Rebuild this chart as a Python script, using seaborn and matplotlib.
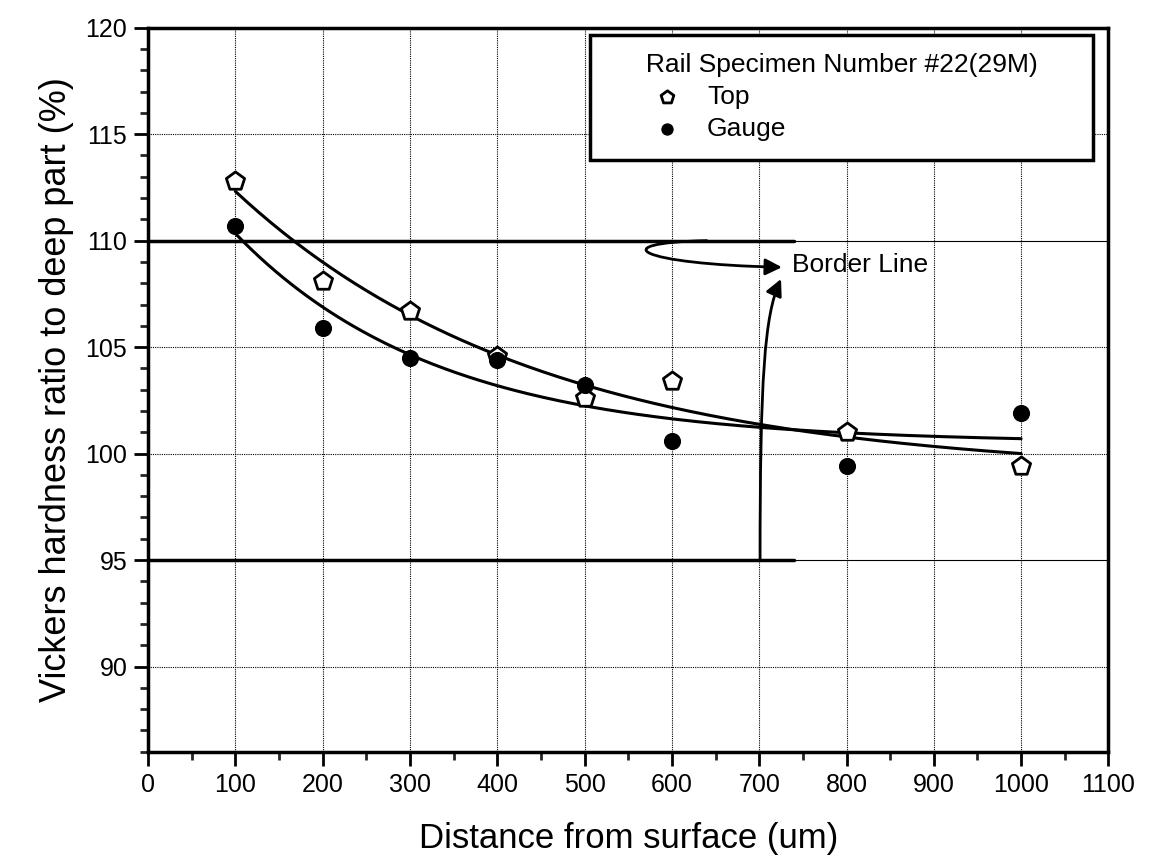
import numpy as np
import pandas as pd
import matplotlib.pyplot as plt
import seaborn as sns
from matplotlib.path import Path
from matplotlib.patches import FancyArrowPatch
from matplotlib.ticker import MultipleLocator

# Datos
distancia = [100, 200, 300, 400, 500, 600, 800, 1000]
top = [112.8, 108.1, 106.7, 104.6, 102.6, 103.4, 101.0, 99.4]
gauge = [110.7, 105.9, 104.5, 104.4, 103.2, 100.6, 99.4, 101.9]
borde_sup = 110
borde_inf = 95
titulo_leyenda = "Rail Specimen Number #22(29M)"


# Ajuste exponencial y = y0 + A*exp(-x/t) (búsqueda en t, mínimos cuadrados en y0 y A)
def ajuste_exp(x, y):
    x = np.asarray(x, float)
    y = np.asarray(y, float)
    mejor = None
    for t in np.linspace(50, 2000, 2000):
        M = np.column_stack([np.ones_like(x), np.exp(-x / t)])
        coef, res, *_ = np.linalg.lstsq(M, y, rcond=None)
        err = np.sum((M @ coef - y) ** 2)
        if mejor is None or err < mejor[0]:
            mejor = (err, t, coef)
    _, t, (y0, a) = mejor
    xs = np.linspace(x.min(), x.max(), 200)
    return xs, y0 + a * np.exp(-xs / t)


sns.set_style("white")
plt.rcParams['font.family'] = ['Liberation Sans', 'DejaVu Sans']
plt.rcParams['text.color'] = 'black'
plt.rcParams['axes.labelcolor'] = 'black'

fig = plt.figure(figsize=(11.57, 8.66), dpi=100)
ax = fig.add_axes([0.128, 0.132, 0.830, 0.836])

df = pd.DataFrame({"x": distancia, "Top": top, "Gauge": gauge})

# Cuadrícula
for xv in range(100, 1100, 100):
    ax.axvline(xv, color="black", lw=0.8, ls=(0, (1, 1)), zorder=1)
for yv in [90, 100, 105, 115]:
    ax.axhline(yv, color="black", lw=0.8, ls=(0, (1, 1)), zorder=1)
for yv in [borde_sup, borde_inf]:
    ax.axhline(yv, color="black", lw=0.8, zorder=1)
    ax.plot([0, 740], [yv, yv], color="black", lw=2.5, zorder=2)

# Curvas de ajuste
for col in ["Top", "Gauge"]:
    xs, ys = ajuste_exp(df["x"], df[col])
    sns.lineplot(x=xs, y=ys, ax=ax, color="black", lw=2.2, zorder=3)

sns.scatterplot(data=df, x="x", y="Top", ax=ax, marker="p", s=190,
                facecolor="white", edgecolor="black", linewidth=2, zorder=4, label="Top")
sns.scatterplot(data=df, x="x", y="Gauge", ax=ax, marker="o", s=130,
                color="black", edgecolor="black", zorder=4, label="Gauge")

# Flechas "Border Line"
ax.text(738, 108.85, "Border Line", fontsize=19, va="center", ha="left")
p1 = Path([(640, 110.0), (520, 109.9), (560, 108.9), (726, 108.75)],
          [Path.MOVETO, Path.CURVE4, Path.CURVE4, Path.CURVE4])
ax.add_patch(FancyArrowPatch(path=p1, arrowstyle="-|>,head_length=10,head_width=5",
                             color="black", lw=2, zorder=5))
p2 = Path([(701, 95.0), (701, 103.5), (706, 106.5), (725, 108.2)],
          [Path.MOVETO, Path.CURVE4, Path.CURVE4, Path.CURVE4])
ax.add_patch(FancyArrowPatch(path=p2, arrowstyle="-|>,head_length=10,head_width=5",
                             color="black", lw=2, zorder=5))

ax.set_xlim(0, 1100)
ax.set_ylim(86, 120)
ax.xaxis.set_major_locator(MultipleLocator(100))
ax.xaxis.set_minor_locator(MultipleLocator(50))
ax.yaxis.set_major_locator(MultipleLocator(5))
ax.yaxis.set_minor_locator(MultipleLocator(1))
ax.set_yticks([90, 95, 100, 105, 110, 115, 120])
ax.tick_params(which="major", direction="out", length=10, width=2, labelsize=18,
               pad=5, bottom=True, left=True, colors="black")
ax.tick_params(which="minor", direction="out", length=6, width=2, bottom=True, left=True)
for s in ax.spines.values():
    s.set_color("black")
    s.set_linewidth(2.5)

ax.set_xlabel("Distance from surface (um)", fontsize=25, labelpad=18)
ax.set_ylabel("Vickers hardness ratio to deep part (%)", fontsize=26, labelpad=8)

leg = ax.legend(title="     " + titulo_leyenda + "     ", loc="upper right",
                bbox_to_anchor=(0.984, 0.990), borderaxespad=0,
                fontsize=19, title_fontsize=19, frameon=True, fancybox=False,
                framealpha=1, edgecolor="black", borderpad=0.7, handlelength=4.4,
                handletextpad=-0.68, labelspacing=0.3, markerscale=0.7)
leg.get_frame().set_linewidth(2.5)
leg._legend_box.align = "left"

fig.savefig("out.png", dpi=100)
